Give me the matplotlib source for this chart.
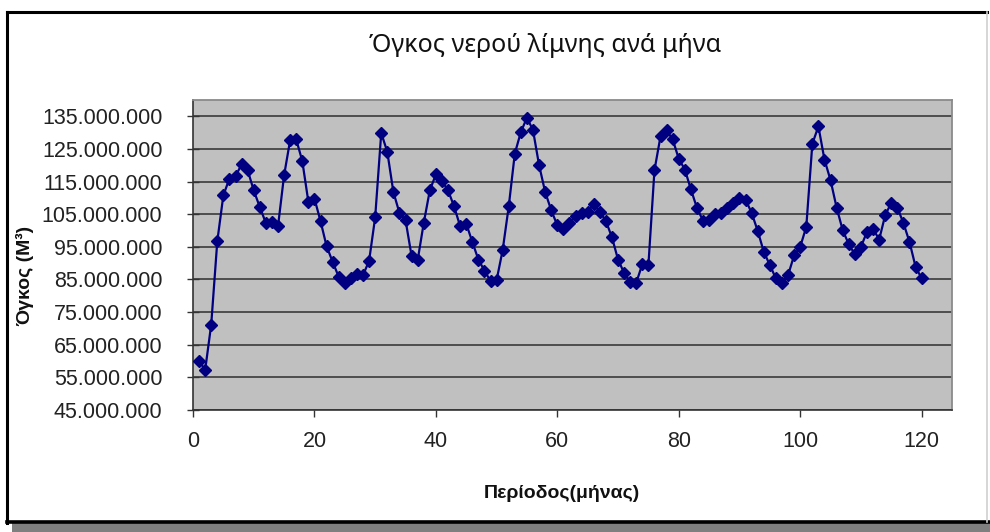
import matplotlib
matplotlib.use("Agg")
import matplotlib.pyplot as plt
from matplotlib.patches import Rectangle
from matplotlib.lines import Line2D
from matplotlib.ticker import FuncFormatter

# ---- data (volume in million m3) ----
months = list(range(1, 121))
volume_m = [
    60.1, 57.2, 71.2, 96.7, 110.8, 115.9, 116.6, 120.3, 118.5, 112.3,
    107.2, 102.3, 102.7, 101.3, 116.9, 127.7, 127.9, 121.3, 108.8, 109.8,
    102.9, 95.2, 90.4, 85.8, 84.0, 85.3, 86.6, 86.3, 90.7, 104.0,
    129.9, 124.1, 111.8, 105.4, 103.2, 92.2, 90.9, 102.3, 112.3, 117.2,
    115.2, 112.3, 107.4, 101.3, 102.1, 96.5, 91.1, 87.7, 84.5, 84.8,
    94.0, 107.4, 123.6, 130.2, 134.6, 130.7, 120.0, 111.8, 106.2, 101.6,
    100.6, 102.3, 104.4, 105.4, 105.7, 108.1, 105.7, 102.9, 97.9, 91.1,
    87.0, 84.3, 84.0, 89.7, 89.4, 118.5, 128.9, 130.7, 127.9, 122.0,
    118.7, 112.6, 106.9, 103.0, 103.2, 105.0, 105.4, 107.0, 108.3, 110.1,
    109.5, 105.4, 99.9, 93.5, 89.4, 85.3, 84.0, 86.3, 92.4, 95.0,
    101.1, 126.6, 131.9, 121.7, 115.4, 107.0, 100.1, 95.8, 92.7, 95.0,
    99.6, 100.6, 97.2, 104.7, 108.5, 107.0, 102.3, 96.5, 88.9, 85.3,
]
volume = [v * 1e6 for v in volume_m]

title = "Όγκος νερού λίμνης ανά μήνα"
x_label = "Περίοδος(μήνας)"
y_label = "Όγκος (M³)"
x_ticks = [0, 20, 40, 60, 80, 100, 120]
y_ticks = [45e6, 55e6, 65e6, 75e6, 85e6, 95e6, 105e6, 115e6, 125e6, 135e6]

W, H = 990, 532
fig = plt.figure(figsize=(W / 100, H / 100), dpi=100)
fig.patch.set_facecolor("white")

def fx(px):
    return px / W

def fy(py):
    return 1 - py / H

# outer frame
fig.add_artist(Rectangle((fx(12), fy(532)), fx(990) - fx(12), fy(523) - fy(532),
                         transform=fig.transFigure, facecolor="#7f7f7f", edgecolor="none"))
fig.add_artist(Line2D([fx(7), fx(987)], [fy(12), fy(12)], transform=fig.transFigure, color="black", lw=2.2))
fig.add_artist(Line2D([fx(7), fx(7)], [fy(12), fy(523)], transform=fig.transFigure, color="black", lw=2.2))
fig.add_artist(Line2D([fx(7), fx(990)], [fy(522), fy(522)], transform=fig.transFigure, color="black", lw=2.6))
fig.add_artist(Line2D([fx(987), fx(987)], [fy(12), fy(522)], transform=fig.transFigure, color="#d0d0d0", lw=1.2))

ax = fig.add_axes([fx(193), fy(410), fx(952) - fx(193), fy(100) - fy(410)])
ax.set_facecolor("#c0c0c0")
ax.set_xlim(0, 125)
ax.set_ylim(45e6, 140e6)
ax.set_xticks(x_ticks)
ax.set_yticks(y_ticks)
ax.yaxis.set_major_formatter(FuncFormatter(lambda v, p: f"{int(round(v)):,}".replace(",", ".")))
ax.grid(axis="y", color="#3a3a3a", lw=1.2)
ax.set_axisbelow(True)
for side in ["top", "right"]:
    ax.spines[side].set_color("#8a8a8a")
    ax.spines[side].set_linewidth(1.3)
for side in ["left", "bottom"]:
    ax.spines[side].set_color("#333333")
    ax.spines[side].set_linewidth(1.2)

ax.plot(months, volume, color="#000080", lw=1.6, marker="D", ms=6.5,
        markerfacecolor="#000080", markeredgecolor="#000080", zorder=3)

ax.tick_params(axis="y", direction="inout", length=8, width=1, color="#333333", pad=18, labelcolor="#222222")
ax.tick_params(axis="x", direction="out", length=5, width=1, color="#333333", pad=10, labelcolor="#222222")
for lab in ax.get_xticklabels() + ax.get_yticklabels():
    lab.set_fontfamily(["Liberation Sans", "DejaVu Sans"])
    lab.set_fontsize(15.5)

fig.text(fx(545), fy(46), title, ha="center", va="center",
         fontsize=18, family=["Noto Sans", "DejaVu Sans"], color="#111111")
fig.text(fx(562), fy(493), x_label, ha="center", va="center",
         fontsize=14, fontweight="bold", family=["Liberation Sans", "DejaVu Sans"], color="#111111")
fig.text(fx(25), fy(276), y_label, ha="center", va="center", rotation=90,
         fontsize=14, fontweight="bold", family=["Liberation Sans", "DejaVu Sans"], color="#111111")

fig.savefig("out.png", dpi=100)
